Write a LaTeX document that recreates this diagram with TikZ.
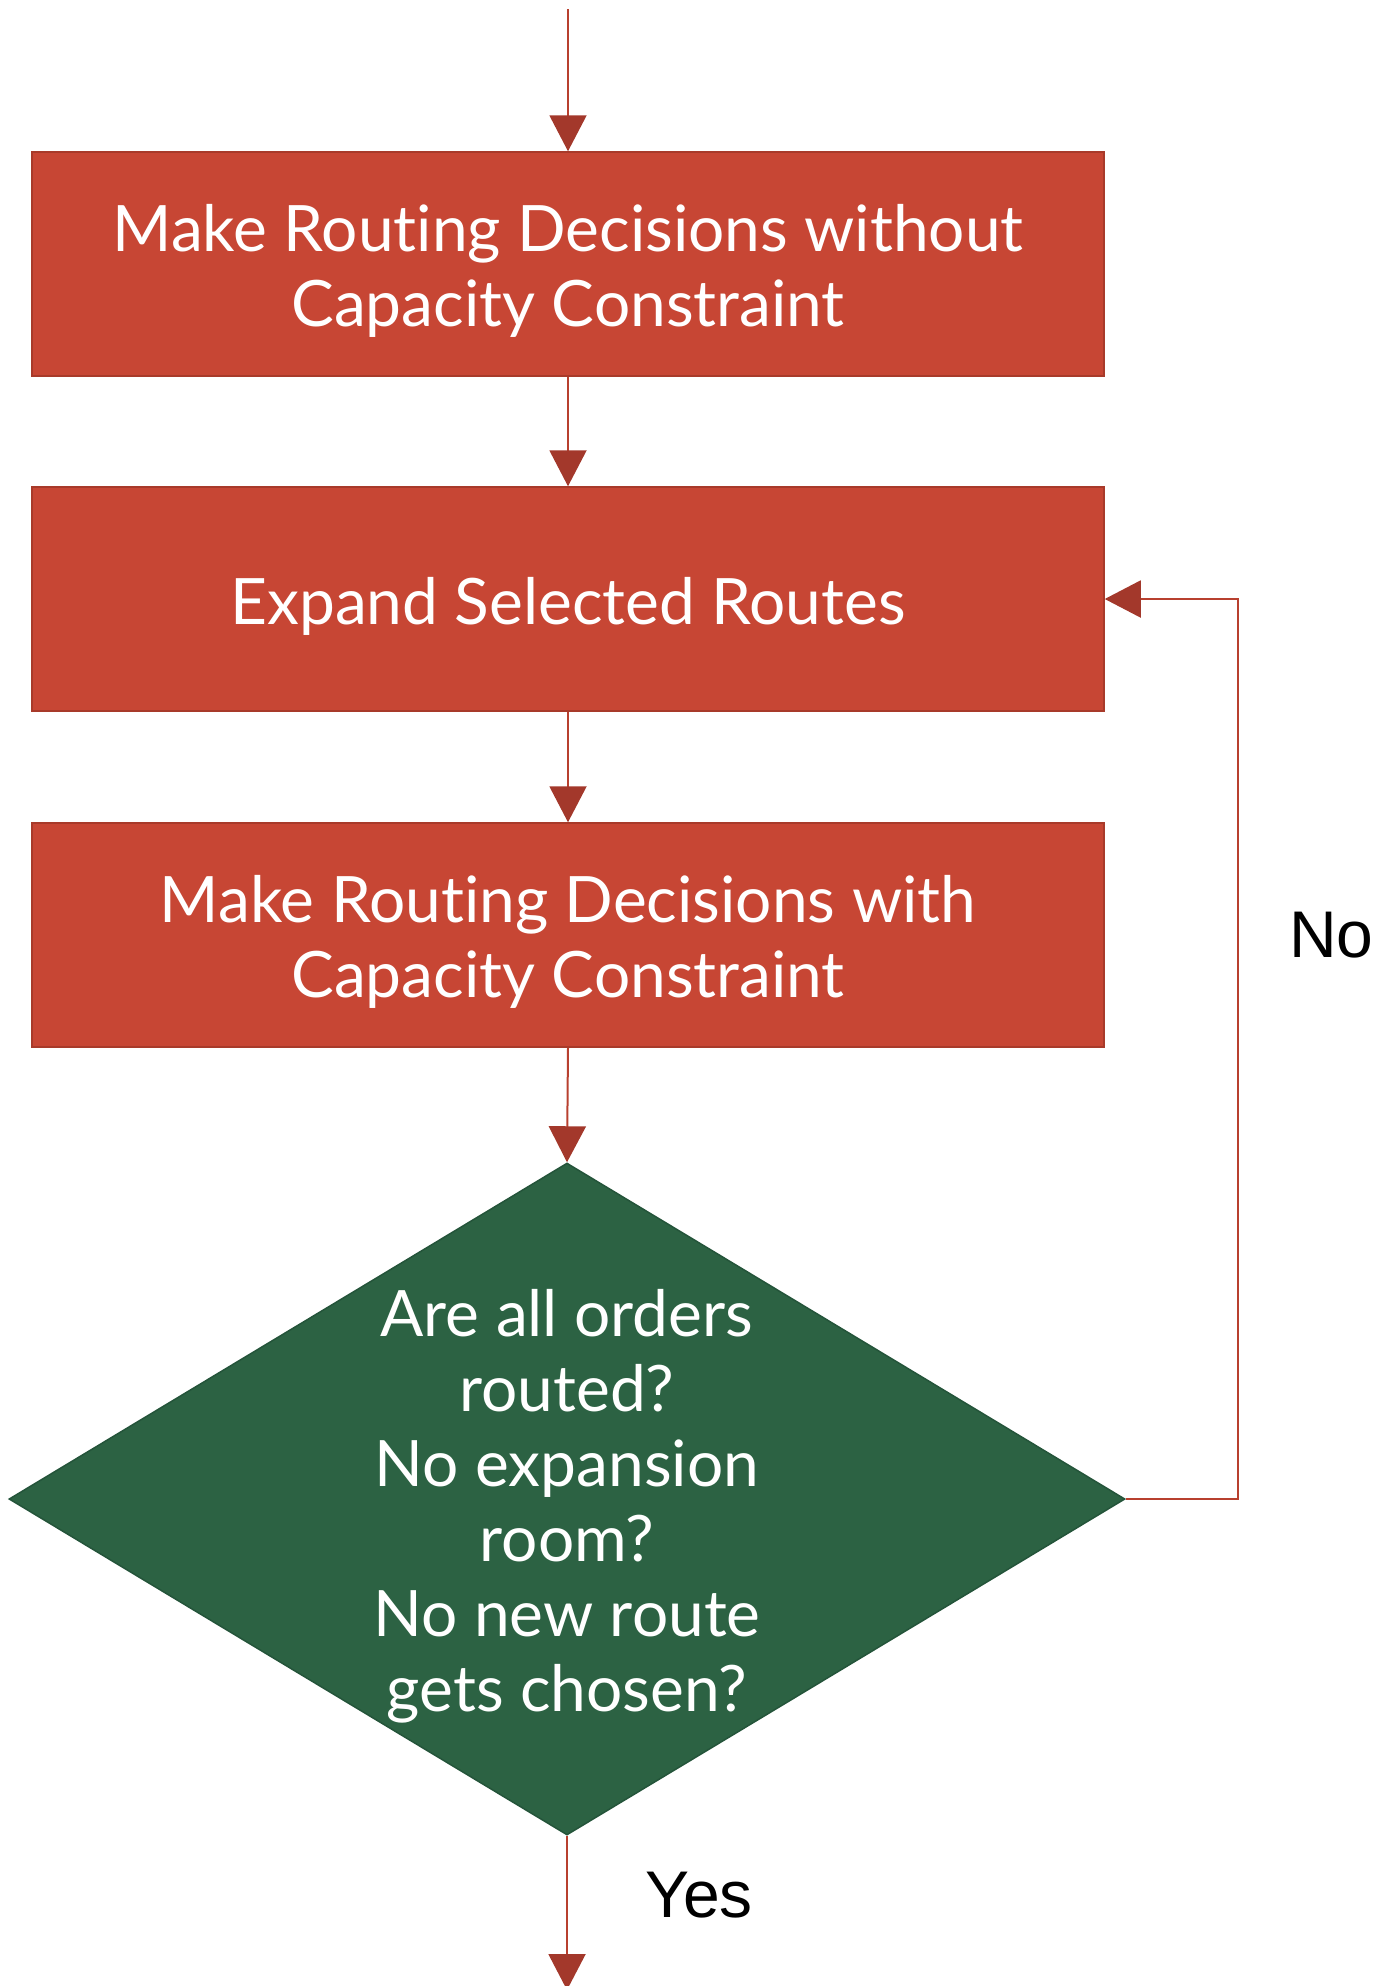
\documentclass[tikz,border=0pt]{standalone}
\usepackage{fontspec}
\setmainfont{Lato}[Ligatures=NoCommon]
\newfontfamily\labelfont{Liberation Sans}
\usetikzlibrary{arrows.meta,shapes.geometric}
\definecolor{boxred}{HTML}{C74634}
\definecolor{boxedge}{HTML}{A83A2A}
\definecolor{linered}{HTML}{B8402F}
\definecolor{tipred}{HTML}{A3382B}
\definecolor{decgreen}{HTML}{2C6243}
\definecolor{decedge}{HTML}{24543A}
\tikzset{
  stepbox/.style={rectangle, fill=boxred, draw=boxedge, line width=1.5pt,
    minimum width=1072pt, minimum height=224pt, inner sep=0pt},
  decision/.style={diamond, fill=decgreen, draw=decedge, line width=1.5pt,
    minimum width=1116pt, minimum height=672pt, inner sep=0pt},
  boxtext/.style={text=white, align=center, inner sep=0pt,
    font=\fontsize{64}{75}\selectfont},
  conn/.style={draw=linered, line width=2pt,
    -{Triangle[width=37pt,length=36pt,color=tipred]}},
  branch/.style={font=\labelfont\fontsize{66}{75}\selectfont, inner sep=0pt}
}
\begin{document}
\begin{tikzpicture}[x=1pt,y=-1pt]
\useasboundingbox (0,0) rectangle (1380,1986);
\clip (0,0) rectangle (1380,1986);

% process steps and the decision
\coordinate (start) at (568,9);
\node[stepbox] (plain) at (568,264) {};
\node[stepbox] (expand) at (568,599) {};
\node[stepbox] (capped) at (568,935) {};
\node[decision] (check) at (567,1499) {};
\coordinate (finish) at (567,1990);
\coordinate (loopturn) at (1238,1499);

% their texts
\node[boxtext] (plaintext) at ([yshift=-7pt]plain.center) {Make Routing Decisions without\\Capacity Constraint};
\node[boxtext] (expandtext) at ([yshift=-7pt]expand.center) {Expand Selected Routes};
\node[boxtext] (cappedtext) at ([yshift=-7pt]capped.center) {Make Routing Decisions with\\Capacity Constraint};
\node[boxtext] (checktext) at ([yshift=-7pt]check.center) {Are all orders\\routed?\\No expansion\\room?\\No new route\\gets chosen?};

% flow
\draw[conn] (start) -- (plain.north);
\draw[conn] (plain.south) -- (expand.north);
\draw[conn] (expand.south) -- (capped.north);
\draw[conn] (capped.south) -- (check.north);
\draw[conn] (check.east) -- (loopturn) |- (expand.east);
\draw[conn] (check.south) -- (finish);

\node[branch, anchor=base west] (nolabel) at (1289,957) {No};
\node[branch, anchor=base west] (yeslabel) at (645,1917) {Yes};
\end{tikzpicture}
\end{document}
